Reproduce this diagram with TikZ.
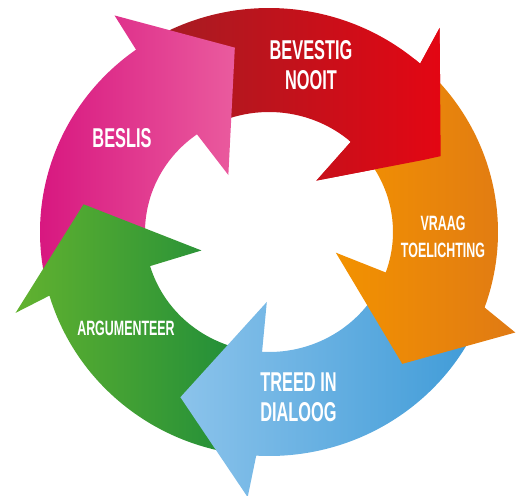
\documentclass[tikz,border=0pt]{standalone}
\usepackage{fontspec}
\newfontfamily\cyclefont[FakeStretch=0.6]{Liberation Sans}
\usetikzlibrary{positioning}
\definecolor{redA}{HTML}{A01E24}
\definecolor{redB}{HTML}{E30613}
\definecolor{oraA}{HTML}{F39200}
\definecolor{oraB}{HTML}{E07A14}
\definecolor{bluA}{HTML}{8BC3EB}
\definecolor{bluB}{HTML}{3D9AD7}
\definecolor{grnA}{HTML}{62B22F}
\definecolor{grnB}{HTML}{1A8A3A}
\definecolor{magA}{HTML}{D6117D}
\definecolor{magB}{HTML}{EA5B9E}
\tikzset{
  lbl/.style={text=white, inner sep=0pt, align=center, font=\cyclefont\bfseries\fontsize{15.5}{17}\selectfont},
  lbls/.style={lbl, font=\cyclefont\bfseries\fontsize{11.8}{15.4}\selectfont}
}
% ring arrow: tail at angle #1, head base at angle #2, barbs tilted by #3 (clockwise)
\newcommand{\ringarrow}[3]{(#1:4.58 and 4.48) arc[start angle=#1, end angle=#2, x radius=4.58, y radius=4.48]
  -- ({#2+#3}:5.32) -- ({#2-25}:3.75) -- ({#2-#3}:1.4) -- (#2:2.48 and 2.4)
  arc[start angle=#2, end angle=#1, x radius=2.48, y radius=2.4] -- cycle}

\begin{document}
\begin{tikzpicture}[
  redarr/.style={left color=redA, right color=redB},
  oraarr/.style={left color=oraA, right color=oraB},
  bluarr/.style={left color=bluA, right color=bluB},
  grnarr/.style={left color=grnA, right color=grnB},
  magarr/.style={left color=magA, right color=magB}]
\useasboundingbox (-5.38,-5.26) rectangle (5.04,4.64);
\shade[redarr] \ringarrow{125.5}{48.7}{1.4};
\shade[magarr] \ringarrow{196.5}{125.5}{0};
\shade[grnarr] \ringarrow{-93.2}{-163.5}{1.2};
\shade[bluarr] \ringarrow{-19.7}{-93.2}{-1.4};
\shade[oraarr] \ringarrow{48.7}{-19.7}{-2.5};
% red head goes on top of the orange tail
\begin{scope}
\clip (50.1:5.4) -- (23.7:3.8) -- (47.3:1.3) -- cycle;
\shade[redarr] \ringarrow{125.5}{48.7}{1.4};
\end{scope}
\node[lbl] (bevestig) at (0.84,3.33) {BEVESTIG\\NOOIT};
\node[lbls] (vraag) at (3.48,-0.1) {VRAAG\\TOELICHTING};
\node[lbl, align=left, anchor=west] (treed) at (-0.18,-3.31) {TREED IN\\DIALOOG};
\node[lbls] (argumenteer) at (-2.86,-1.92) {ARGUMENTEER};
\node[lbl] (beslis) at (-2.94,1.88) {BESLIS};
\end{tikzpicture}
\end{document}
